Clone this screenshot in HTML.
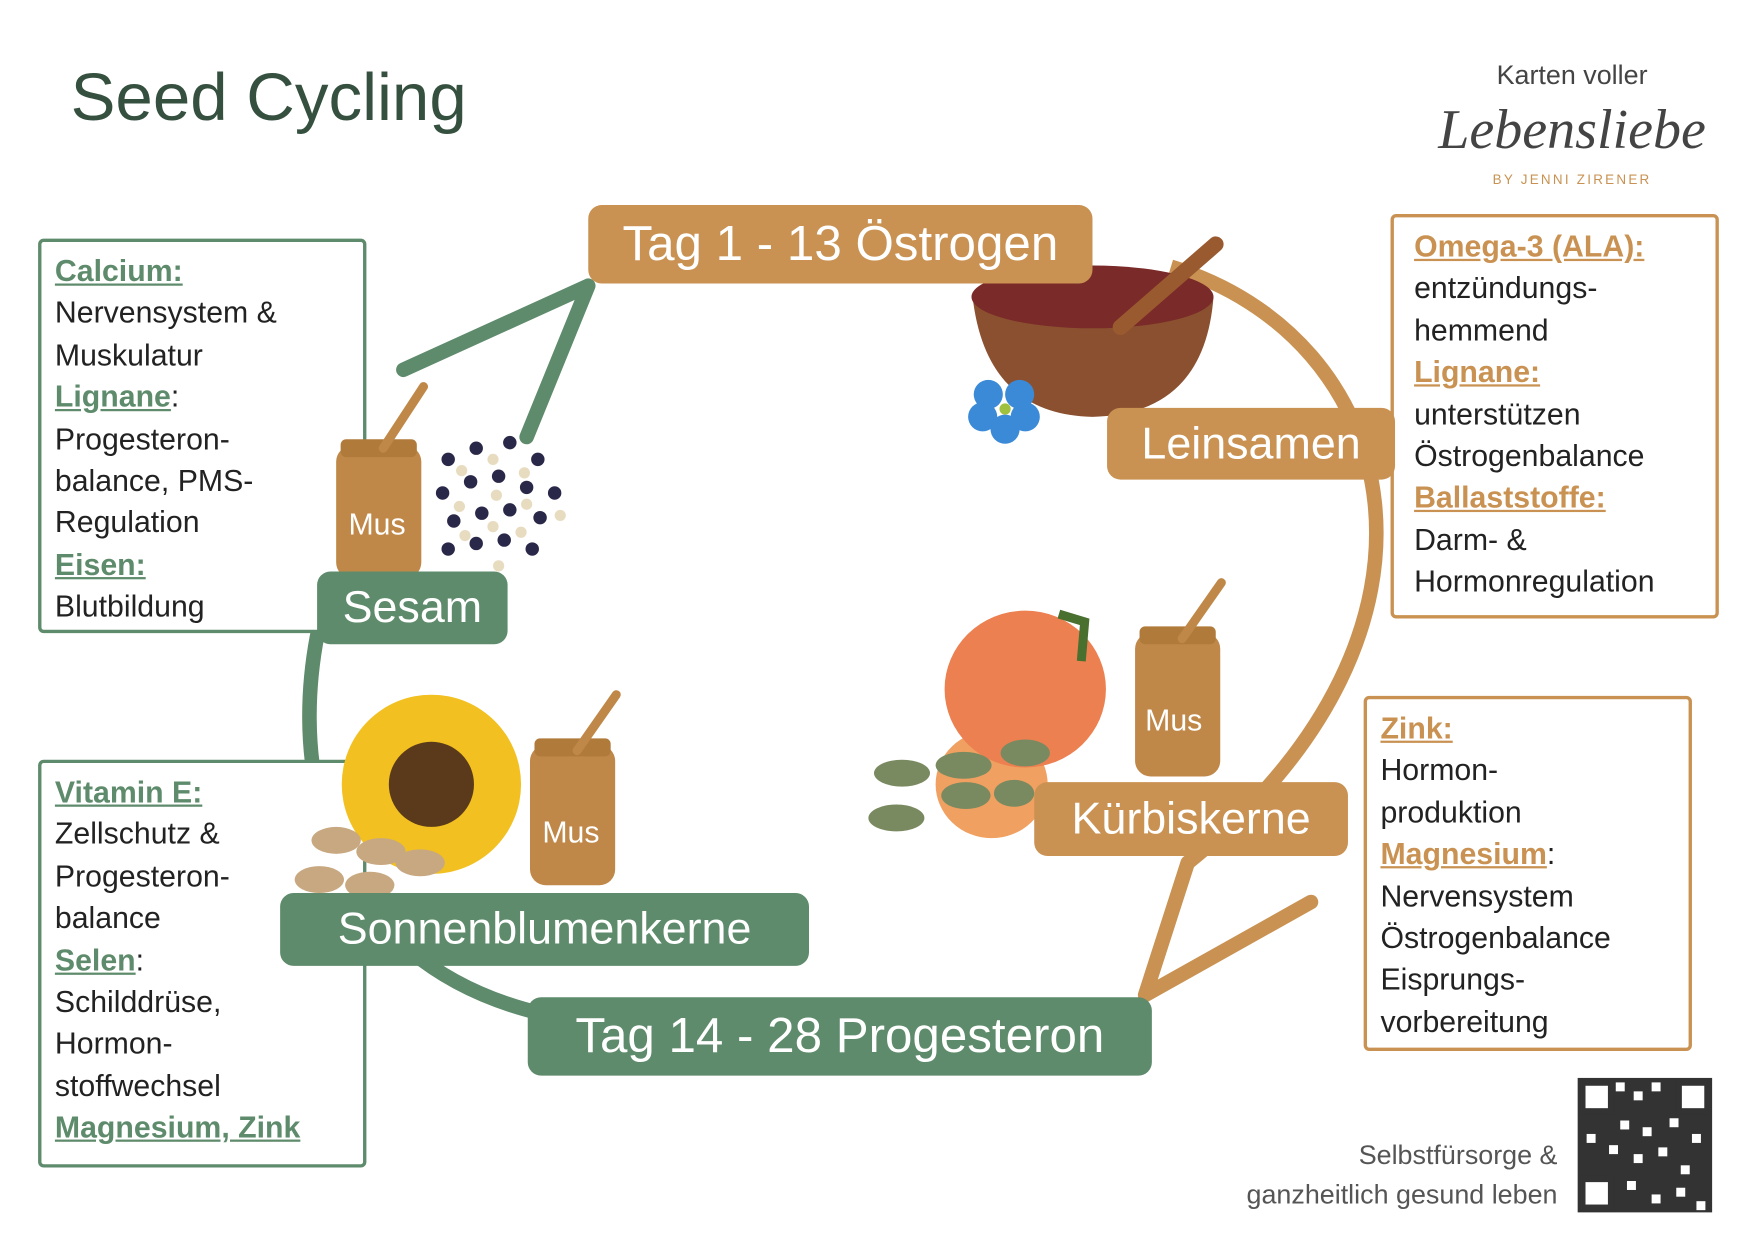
<!DOCTYPE html>
<html><head><meta charset="utf-8"><style>
html,body{margin:0;padding:0;background:#fff;}
body{width:1748px;height:1240px;overflow:hidden;position:relative;font-family:"Liberation Sans",sans-serif;}
#w{position:absolute;left:0;top:0;width:1560px;height:1107px;transform:scale(1.1205);transform-origin:0 0;}
.a{position:absolute;}
.lbl{position:absolute;color:#fff;border-radius:12px;white-space:nowrap;box-sizing:border-box;display:flex;align-items:center;justify-content:center;}
.o{background:#c99252;}
.g{background:#5e8b6b;}
.box{position:absolute;box-sizing:border-box;background:#fff;border-radius:5px;padding:8px 0 0 12px;font-size:27px;line-height:37.4px;color:#222;}
.box b{text-decoration:underline;}
.bg{border:3.5px solid #5e8b6b;} .bg b{color:#5e8b6b;}
.bo{border:3.5px solid #c99252;} .bo b{color:#c99252;}
</style></head><body><div id="w">
<svg class="a" style="left:0;top:0" width="1560" height="1107">
<path d="M 295 520 C 245 680, 290 860, 485 905" fill="none" stroke="#5e8b6b" stroke-width="13"/>
<path d="M 1045 238 C 1250 300, 1320 560, 1060 770" fill="none" stroke="#c99252" stroke-width="13"/>
</svg>
<div class="box bg" style="left:34px;top:213px;width:293px;height:352px"><b>Calcium:</b><br>Nervensystem &amp;<br>Muskulatur<br><b>Lignane</b>:<br>Progesteron-<br>balance, PMS-<br>Regulation<br><b>Eisen:</b><br>Blutbildung</div>
<div class="box bg" style="left:34px;top:678px;width:293px;height:364px"><b>Vitamin E:</b><br>Zellschutz &amp;<br>Progesteron-<br>balance<br><b>Selen</b>:<br>Schilddrüse,<br>Hormon-<br>stoffwechsel<br><b>Magnesium, Zink</b></div>
<div class="box bo" style="left:1241px;top:191px;width:293px;height:361px;padding-left:18px"><b>Omega-3 (ALA):</b><br>entzündungs-<br>hemmend<br><b>Lignane:</b><br>unterstützen<br>Östrogenbalance<br><b>Ballaststoffe:</b><br>Darm- &amp;<br>Hormonregulation</div>
<div class="box bo" style="left:1217px;top:621px;width:293px;height:317px"><b>Zink:</b><br>Hormon-<br>produktion<br><b>Magnesium</b>:<br>Nervensystem<br>Östrogenbalance<br>Eisprungs-<br>vorbereitung</div>
<svg class="a" style="left:0;top:0" width="1560" height="1107">
<path d="M 360 330 L 525 255 L 470 390" fill="none" stroke="#5e8b6b" stroke-width="13" stroke-linecap="round" stroke-linejoin="round"/>
<path d="M 1170 805 L 1022 888 L 1060 770" fill="none" stroke="#c99252" stroke-width="13" stroke-linecap="round" stroke-linejoin="round"/>
<!-- bowl -->
<path d="M 868 265 Q 880 370 975 372 Q 1075 370 1083 265 Z" fill="#8a5030"/>
<ellipse cx="975" cy="265" rx="108" ry="28" fill="#7a2a28"/>
<line x1="1000" y1="292" x2="1085" y2="218" stroke="#9a5a30" stroke-width="14" stroke-linecap="round"/>
<g fill="#3a8ad8"><circle cx="882" cy="352" r="13"/><circle cx="910" cy="352" r="13"/><circle cx="877" cy="372" r="13"/><circle cx="915" cy="372" r="13"/><circle cx="897" cy="383" r="13"/></g><circle cx="897" cy="365" r="5" fill="#a0c040"/>
<!-- sesame jar -->
<rect x="300" y="398" width="76" height="118" rx="14" fill="#c08848"/>
<rect x="304" y="392" width="68" height="16" rx="5" fill="#b07a3a"/>
<line x1="342" y1="400" x2="378" y2="345" stroke="#c08848" stroke-width="8" stroke-linecap="round"/>
<g fill="#2a2848">
<circle cx="400" cy="410" r="6"/><circle cx="425" cy="400" r="6"/><circle cx="455" cy="395" r="6"/><circle cx="480" cy="410" r="6"/>
<circle cx="395" cy="440" r="6"/><circle cx="420" cy="430" r="6"/><circle cx="445" cy="425" r="6"/><circle cx="470" cy="435" r="6"/><circle cx="495" cy="440" r="6"/>
<circle cx="405" cy="465" r="6"/><circle cx="430" cy="458" r="6"/><circle cx="455" cy="455" r="6"/><circle cx="482" cy="462" r="6"/>
<circle cx="400" cy="490" r="6"/><circle cx="425" cy="485" r="6"/><circle cx="450" cy="482" r="6"/><circle cx="475" cy="490" r="6"/>
</g>
<g fill="#e8dcc0"><circle cx="412" cy="420" r="5"/><circle cx="440" cy="410" r="5"/><circle cx="468" cy="422" r="5"/><circle cx="410" cy="452" r="5"/><circle cx="443" cy="442" r="5"/><circle cx="470" cy="450" r="5"/><circle cx="500" cy="460" r="5"/><circle cx="415" cy="478" r="5"/><circle cx="440" cy="470" r="5"/><circle cx="465" cy="475" r="5"/><circle cx="445" cy="505" r="5"/></g>
<!-- sunflower -->
<circle cx="385" cy="700" r="80" fill="#f2c020"/><circle cx="385" cy="700" r="38" fill="#5a3a1a"/>
<g fill="#c8a880"><ellipse cx="300" cy="750" rx="22" ry="12"/><ellipse cx="340" cy="760" rx="22" ry="12"/><ellipse cx="285" cy="785" rx="22" ry="12"/><ellipse cx="330" cy="790" rx="22" ry="12"/><ellipse cx="375" cy="770" rx="22" ry="12"/></g>
<rect x="473" y="665" width="76" height="125" rx="14" fill="#c08848"/>
<rect x="477" y="659" width="68" height="16" rx="5" fill="#b07a3a"/>
<line x1="515" y1="670" x2="550" y2="620" stroke="#c08848" stroke-width="8" stroke-linecap="round"/>
<!-- pumpkin -->
<ellipse cx="885" cy="700" rx="50" ry="48" fill="#f0a060"/>
<ellipse cx="915" cy="615" rx="72" ry="70" fill="#ec8050"/>
<path d="M 945 548 L 968 555 L 965 590" stroke="#4a7030" stroke-width="8" fill="none"/>
<g fill="#7a8a60"><ellipse cx="805" cy="690" rx="25" ry="12"/><ellipse cx="860" cy="683" rx="25" ry="12"/><ellipse cx="800" cy="730" rx="25" ry="12"/><ellipse cx="862" cy="710" rx="22" ry="12"/><ellipse cx="905" cy="708" rx="18" ry="12"/><ellipse cx="915" cy="672" rx="22" ry="12"/></g>
<rect x="1013" y="565" width="76" height="128" rx="14" fill="#c08848"/>
<rect x="1017" y="559" width="68" height="16" rx="5" fill="#b07a3a"/>
<line x1="1055" y1="570" x2="1090" y2="520" stroke="#c08848" stroke-width="8" stroke-linecap="round"/>
<!-- QR -->
<rect x="1408" y="962" width="120" height="120" fill="#333"/>
<g fill="#fff"><rect x="1442" y="966" width="8" height="8"/><rect x="1458" y="974" width="8" height="8"/><rect x="1474" y="966" width="8" height="8"/><rect x="1446" y="1000" width="8" height="8"/><rect x="1466" y="1006" width="8" height="8"/><rect x="1490" y="998" width="8" height="8"/><rect x="1510" y="1012" width="8" height="8"/><rect x="1416" y="1012" width="8" height="8"/><rect x="1436" y="1022" width="8" height="8"/><rect x="1458" y="1030" width="8" height="8"/><rect x="1480" y="1024" width="8" height="8"/><rect x="1500" y="1040" width="8" height="8"/><rect x="1452" y="1054" width="8" height="8"/><rect x="1474" y="1066" width="8" height="8"/><rect x="1496" y="1060" width="8" height="8"/><rect x="1514" y="1072" width="8" height="8"/></g>
<rect x="1412" y="966" width="26" height="26" fill="#fff" stroke="#333" stroke-width="6"/>
<rect x="1498" y="966" width="26" height="26" fill="#fff" stroke="#333" stroke-width="6"/>
<rect x="1412" y="1052" width="26" height="26" fill="#fff" stroke="#333" stroke-width="6"/>
</svg>
<div class="a" style="left:311px;top:453px;color:#fff;font-size:27px">Mus</div>
<div class="a" style="left:484px;top:728px;color:#fff;font-size:27px">Mus</div>
<div class="a" style="left:1022px;top:628px;color:#fff;font-size:27px">Mus</div>
<div class="a" style="left:63px;top:52px;font-size:60px;color:#35503f;">Seed Cycling</div>
<div class="a" style="left:1300px;top:54px;width:206px;text-align:center;font-size:24px;color:#444">Karten voller</div>
<div class="a" style="left:1280px;top:86px;width:246px;text-align:center;font-size:50px;color:#444;font-family:'Liberation Serif',serif;font-style:italic">Lebensliebe</div>
<div class="a" style="left:1300px;top:153px;width:206px;text-align:center;font-size:12px;letter-spacing:2px;color:#c99252">BY JENNI ZIRENER</div>
<div class="lbl o" style="left:525px;top:183px;width:450px;height:70px;font-size:44px">Tag 1 - 13 Östrogen</div>
<div class="lbl o" style="left:988px;top:364px;width:257px;height:64px;font-size:40px">Leinsamen</div>
<div class="lbl o" style="left:923px;top:698px;width:280px;height:66px;font-size:40px">Kürbiskerne</div>
<div class="lbl g" style="left:283px;top:510px;width:170px;height:65px;font-size:40px">Sesam</div>
<div class="lbl g" style="left:250px;top:797px;width:472px;height:65px;font-size:40px">Sonnenblumenkerne</div>
<div class="lbl g" style="left:471px;top:890px;width:557px;height:70px;font-size:44px">Tag 14 - 28 Progesteron</div>
<div class="a" style="left:1000px;top:1014px;width:390px;text-align:right;font-size:24px;line-height:35px;color:#555">Selbstfürsorge &amp;<br>ganzheitlich gesund leben</div>
</div></body></html>
